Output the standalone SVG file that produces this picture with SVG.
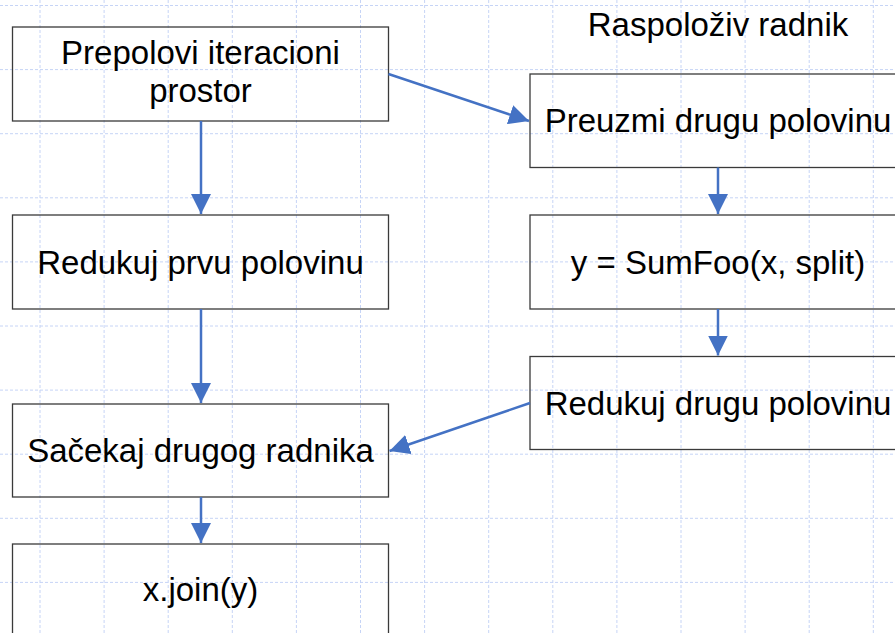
<svg xmlns="http://www.w3.org/2000/svg" width="895" height="633" viewBox="0 0 895 633">
  <style>
    .grid { stroke: #c6d4f6; stroke-width: 1; stroke-dasharray: 3 2; fill: none; }
    .box { fill: none; stroke: #3a3a3a; stroke-width: 1.3; }
    .lbl { font-family: "Liberation Sans", Arial, sans-serif; font-size: 33px; fill: #000; text-anchor: middle; }
    .conn { stroke: #4472c4; stroke-width: 2.5; fill: none; marker-end: url(#arr); }
  </style>
  <defs>
    <marker id="arr" viewBox="0 0 10 10" refX="10" refY="5" markerWidth="8" markerHeight="8" markerUnits="strokeWidth" orient="auto">
      <path d="M0,0 L10,5 L0,10 z" fill="#4472c4"/>
    </marker>
  </defs>
  <rect x="0" y="0" width="895" height="633" fill="#ffffff"/>
  <g id="grid">
    <path class="grid" d="M40,0V633 M104.1,0V633 M168.2,0V633 M232.3,0V633 M296.4,0V633 M360.5,0V633 M424.6,0V633 M488.7,0V633 M552.8,0V633 M616.9,0V633 M681,0V633 M745.1,0V633 M809.2,0V633 M873.3,0V633 M0,5.5H895 M0,69.6H895 M0,133.7H895 M0,197.8H895 M0,261.9H895 M0,326H895 M0,390.1H895 M0,454.2H895 M0,518.3H895 M0,582.4H895"/>
  </g>
  <g id="title">
    <text class="lbl" x="718" y="36">Raspoloživ radnik</text>
  </g>
  <g id="n1">
    <rect class="box" x="12.5" y="27" width="376" height="94"/>
    <text class="lbl" x="200.5" y="64">Prepolovi iteracioni</text>
    <text class="lbl" x="200.5" y="102">prostor</text>
  </g>
  <g id="n2">
    <rect class="box" x="12.5" y="215" width="376" height="94"/>
    <text class="lbl" x="200.5" y="273.5">Redukuj prvu polovinu</text>
  </g>
  <g id="n3">
    <rect class="box" x="12.5" y="404" width="376" height="93"/>
    <text class="lbl" x="200.5" y="462">Sačekaj drugog radnika</text>
  </g>
  <g id="n4">
    <rect class="box" x="12.5" y="544" width="376" height="94"/>
    <text class="lbl" x="200.5" y="601">x.join(y)</text>
  </g>
  <g id="r1">
    <rect class="box" x="530" y="74" width="376" height="93.5"/>
    <text class="lbl" x="718" y="132">Preuzmi drugu polovinu</text>
  </g>
  <g id="r2">
    <rect class="box" x="530" y="215" width="376" height="94"/>
    <text class="lbl" x="718" y="273.5">y = SumFoo(x, split)</text>
  </g>
  <g id="r3">
    <rect class="box" x="530" y="356.5" width="376" height="93"/>
    <text class="lbl" x="718" y="414.5">Redukuj drugu polovinu</text>
  </g>
  <g id="connectors">
    <line class="conn" x1="201" y1="121" x2="201" y2="214"/>
    <line class="conn" x1="201" y1="309" x2="201" y2="403"/>
    <line class="conn" x1="201" y1="497" x2="201" y2="543"/>
    <line class="conn" x1="718" y1="167.5" x2="718" y2="214"/>
    <line class="conn" x1="718" y1="309" x2="718" y2="355.5"/>
    <line class="conn" x1="388.5" y1="74" x2="529" y2="121"/>
    <line class="conn" x1="530" y1="403" x2="389.5" y2="451"/>
  </g>
</svg>
